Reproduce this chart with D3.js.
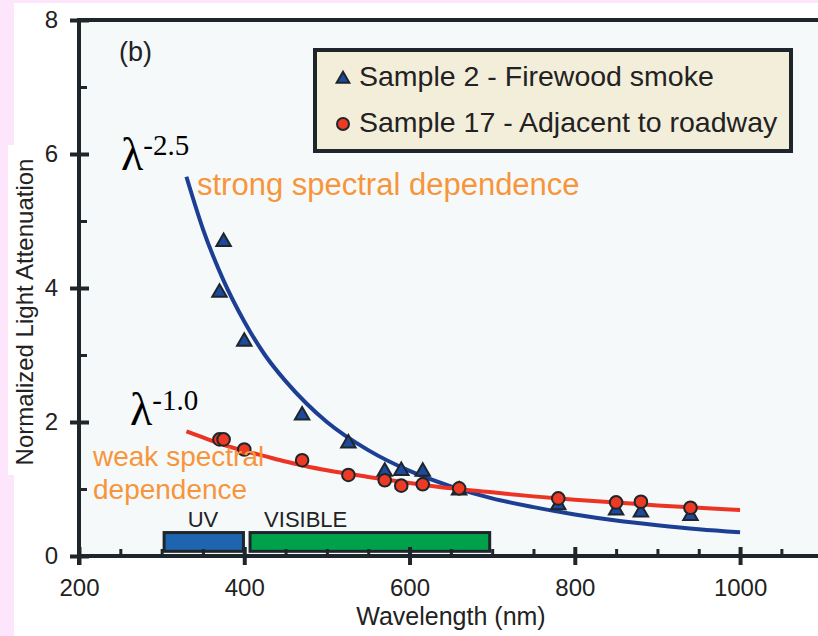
<!DOCTYPE html>
<html><head><meta charset="utf-8">
<script src="https://cdn.jsdelivr.net/npm/d3@7"></script>
<style>
html,body{margin:0;padding:0;background:#fde5fb;}
svg{display:block;font-family:"Liberation Sans",Arial,sans-serif;}
</style></head>
<body>
<script>
// ---- data ----
const wavelengths = [370, 375, 400, 470, 526, 570, 590, 616, 660, 780, 850, 880, 940];
const sample2 = [3.93, 4.69, 3.20, 2.10, 1.68, 1.26, 1.27, 1.26, 0.98, 0.76, 0.68, 0.65, 0.60];
const sample17 = [1.74, 1.74, 1.59, 1.43, 1.21, 1.13, 1.05, 1.07, 1.01, 0.86, 0.80, 0.81, 0.72];
const curveWl = [330, 350, 375, 400, 425, 450, 475, 500, 550, 600, 650, 700, 750, 800, 850, 900, 950, 1000];
const fitStrong = [5.66, 4.88, 4.11, 3.50, 3.00, 2.61, 2.28, 2.00, 1.58, 1.27, 1.04, 0.86, 0.73, 0.62, 0.53, 0.46, 0.40, 0.354];
const fitWeak = [1.86, 1.77, 1.66, 1.57, 1.49, 1.41, 1.34, 1.28, 1.18, 1.09, 1.01, 0.95, 0.89, 0.84, 0.80, 0.755, 0.72, 0.687];
const xTicks = [200, 400, 600, 800, 1000];
const xMinor = [250, 300, 350, 450, 500, 550, 650, 700, 750, 850, 900, 950, 1050];
const yTicks = [0, 2, 4, 6, 8];
const yMinor = [1, 3, 5, 7];
const seriesNames = ["Sample 2 - Firewood smoke", "Sample 17 - Adjacent to roadway"];
const bands = [{name: "UV", from: 303, to: 399, label: 350, anchor: "middle"},
               {name: "VISIBLE", from: 407, to: 697, label: 424, anchor: "start"}];
const bandY = [0.07, 0.35];

const W = 818, H = 636;
const svg = d3.select("body").append("svg").attr("width", W).attr("height", H);

// backgrounds
svg.append("rect").attr("x", 0).attr("y", 0).attr("width", W).attr("height", H).attr("fill", "#fde5fb");
svg.append("rect").attr("x", 14).attr("y", 3).attr("width", W - 14).attr("height", H - 3).attr("fill", "#ffffff");
svg.append("rect").attr("x", 8).attr("y", 145).attr("width", 10).attr("height", 330).attr("fill", "#ffffff");

const x = d3.scaleLinear().domain([200, 1100]).range([79, 822.7]);
const y = d3.scaleLinear().domain([0, 8]).range([556, 20]);

const axisCol = "#1f262b";
// plot background
svg.append("rect").attr("x", x(200)).attr("y", y(8)).attr("width", W - x(200)).attr("height", y(0) - y(8)).attr("fill", "#f5f9fa");

// bands
const bg = svg.append("g");
bands.forEach(b => {
  bg.append("rect").attr("x", x(b.from)).attr("y", y(bandY[1]))
    .attr("width", x(b.to) - x(b.from)).attr("height", y(bandY[0]) - y(bandY[1]))
    .attr("fill", b.name === "UV" ? "#1e64ae" : "#00a14b")
    .attr("stroke", axisCol).attr("stroke-width", 3);
  bg.append("text").attr("x", x(b.label)).attr("y", 527).attr("text-anchor", b.anchor)
    .attr("font-size", 22).attr("fill", "#222").text(b.name);
});

// curves
const line = d3.line().x(d => x(d[0])).y(d => y(d[1])).curve(d3.curveMonotoneX);
svg.append("path").datum(curveWl.map((w, i) => [w, fitStrong[i]])).attr("d", line)
  .attr("fill", "none").attr("stroke", "#1c3f94").attr("stroke-width", 4);
svg.append("path").datum(curveWl.map((w, i) => [w, fitWeak[i]])).attr("d", line)
  .attr("fill", "none").attr("stroke", "#ec3424").attr("stroke-width", 4);

// axes
const gx = svg.append("g").attr("transform", `translate(0,${y(0)})`)
  .call(d3.axisBottom(x).tickValues(xTicks).tickSize(9).tickPadding(14).tickFormat(d3.format("d")));
gx.select(".domain").remove();
gx.selectAll(".tick line").attr("y1", -9).attr("stroke", axisCol).attr("stroke-width", 4);
gx.selectAll(".tick text").attr("font-size", 24).attr("fill", "#222").attr("font-family", "Liberation Sans, Arial, sans-serif");
const gxm = svg.append("g").attr("transform", `translate(0,${y(0)})`)
  .call(d3.axisBottom(x).tickValues(xMinor).tickSize(-7).tickFormat(""));
gxm.select(".domain").remove();
gxm.selectAll(".tick line").attr("stroke", axisCol).attr("stroke-width", 3);

const gy = svg.append("g").attr("transform", `translate(${x(200)},0)`)
  .call(d3.axisLeft(y).tickValues(yTicks).tickSize(9).tickPadding(12));
gy.select(".domain").remove();
gy.selectAll(".tick line").attr("x1", 10).attr("x2", -9).attr("stroke", axisCol).attr("stroke-width", 4);
gy.selectAll(".tick text").attr("font-size", 24).attr("fill", "#222").attr("font-family", "Liberation Sans, Arial, sans-serif");
const gym = svg.append("g").attr("transform", `translate(${x(200)},0)`)
  .call(d3.axisLeft(y).tickValues(yMinor).tickSize(-8).tickFormat(""));
gym.select(".domain").remove();
gym.selectAll(".tick line").attr("stroke", axisCol).attr("stroke-width", 3);

// frame lines
svg.append("line").attr("x1", x(200)).attr("x2", W).attr("y1", y(0)).attr("y2", y(0)).attr("stroke", axisCol).attr("stroke-width", 4);
svg.append("line").attr("x1", x(200)).attr("x2", W).attr("y1", y(8)).attr("y2", y(8)).attr("stroke", axisCol).attr("stroke-width", 4);
svg.append("line").attr("x1", x(200)).attr("x2", x(200)).attr("y1", y(8) - 2).attr("y2", y(0) + 9).attr("stroke", axisCol).attr("stroke-width", 4);

// axis titles
svg.append("text").attr("x", 451).attr("y", 625).attr("text-anchor", "middle").attr("font-size", 25).attr("fill", "#222").text("Wavelength (nm)");
svg.append("text").attr("transform", "translate(33,312) rotate(-90)").attr("text-anchor", "middle").attr("font-size", 24).attr("fill", "#222").text("Normalized Light Attenuation");

// markers
const tri = d3.symbol().type(d3.symbolTriangle).size(90);
const dots = wavelengths.map((w, i) => [w, sample2[i]]);
svg.append("g").selectAll("path").data(dots).join("path")
  .attr("transform", d => `translate(${x(d[0])},${y(d[1])})`).attr("d", tri)
  .attr("fill", "#1d4a9c").attr("stroke", "#1f262b").attr("stroke-width", 2);
const circ = wavelengths.map((w, i) => [w, sample17[i]]);
svg.append("g").selectAll("circle").data(circ).join("circle")
  .attr("cx", d => x(d[0])).attr("cy", d => y(d[1])).attr("r", 6.3)
  .attr("fill", "#ec3a25").attr("stroke", "#1f262b").attr("stroke-width", 2);

// annotations
svg.append("text").attr("x", 119).attr("y", 61).attr("font-size", 27).attr("fill", "#222").text("(b)");
const lam = (xx, yy, sup) => {
  const t = svg.append("text").attr("x", xx).attr("y", yy).attr("font-family", "Liberation Serif, Times New Roman, serif").attr("fill", "#000");
  t.append("tspan").attr("font-size", 46).text("λ");
  t.append("tspan").attr("font-size", 29).attr("dy", -15).text(sup);
};
lam(121, 170, "-2.5");
lam(130, 425, "-1.0");
const orange = "#f7953b";
svg.append("text").attr("x", 197).attr("y", 195).attr("font-size", 31).attr("fill", orange).text("strong spectral dependence");
svg.append("text").attr("x", 93).attr("y", 466).attr("font-size", 28).attr("fill", orange).text("weak spectral");
svg.append("text").attr("x", 93).attr("y", 499).attr("font-size", 28).attr("fill", orange).text("dependence");

// legend
const lg = svg.append("g");
lg.append("rect").attr("x", 315).attr("y", 50).attr("width", 476).attr("height", 101)
  .attr("fill", "#f3eeda").attr("stroke", axisCol).attr("stroke-width", 4);
lg.append("path").attr("transform", "translate(343,79)").attr("d", d3.symbol().type(d3.symbolTriangle).size(70))
  .attr("fill", "#1d4a9c").attr("stroke", "#1f262b").attr("stroke-width", 2);
lg.append("circle").attr("cx", 343).attr("cy", 124).attr("r", 6)
  .attr("fill", "#ec3a25").attr("stroke", "#1f262b").attr("stroke-width", 2);
lg.selectAll("text").data(seriesNames).join("text")
  .attr("x", 359).attr("y", (d, i) => 86 + i * 46).attr("font-size", 28.5).attr("fill", "#222").text(d => d);
</script>
</body></html>
